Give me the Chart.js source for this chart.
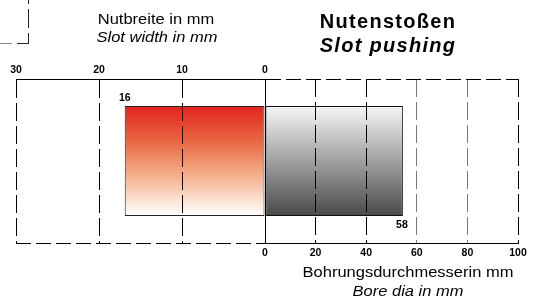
<!DOCTYPE html>
<html>
<head>
<meta charset="utf-8">
<script src="https://cdn.jsdelivr.net/npm/chart.js@4"></script>
<style>
html,body{margin:0;padding:0;background:#fff;}
#wrap{position:relative;width:542px;height:299px;overflow:hidden;background:#fff;font-family:"Liberation Sans",Arial,sans-serif;color:#000;}
canvas{position:absolute;top:0;}
.t{position:absolute;white-space:nowrap;line-height:1;transform:translateX(-50%) scaleX(1.1);}
.h{position:absolute;white-space:nowrap;line-height:1;transform:translateX(-50%);font-weight:bold;font-size:20px;letter-spacing:1.3px;}
.i{font-style:italic;}
</style>
</head>
<body>
<div id="wrap">
  <svg style="position:absolute;left:0;top:0" width="40" height="50">
    <path d="M28.5 0 V44" stroke="#222" stroke-width="1" stroke-dasharray="4 5 19 5 11 0" fill="none"/>
    <path d="M0 43.5 H12" stroke="#888" stroke-width="1"/>
    <path d="M17 43.5 H28.5" stroke="#222" stroke-width="1"/>
  </svg>
  <canvas id="leftChart" width="275" height="299" style="left:0px"></canvas>
  <canvas id="rightChart" width="287" height="299" style="left:255px"></canvas>
  <div class="t" style="left:155.5px;top:11.3px;font-size:15px">Nutbreite in mm</div>
  <div class="t i" style="left:157px;top:29px;font-size:15px">Slot width in mm</div>
  <div class="h" style="left:388px;top:11px">Nutenstoßen</div>
  <div class="h i" style="left:388px;top:35px">Slot pushing</div>
  <div class="t" style="left:407.7px;top:264px;font-size:15px">Bohrungsdurchmesserin mm</div>
  <div class="t i" style="left:407.7px;top:283px;font-size:15px">Bore dia in mm</div>
</div>
<script>
// ---- data ----
const categories = ['Nutenstoßen'];
const slotWidthValues = [16.9];      // slot width in mm (left, reversed scale)
const slotWidthLabels = ['16'];
const boreDiaValues = [54.5];        // bore diameter in mm (right scale)
const boreDiaLabels = ['58'];
const slotTicks = [0, 10, 20, 30];
const boreTicks = [0, 20, 40, 60, 80, 100];

const BAR_PCT = 0.67;
const CAT_PCT = 1.0;
const FONT = '"Liberation Sans", Arial, sans-serif';
Chart.defaults.font.family = FONT;
Chart.defaults.color = '#000';

function barGradient(stops) {
  return (c) => {
    const chart = c.chart;
    const y = chart.scales && chart.scales.y;
    if (!y || !chart.chartArea || c.dataIndex === undefined) return stops[stops.length - 1][1];
    const center = y.getPixelForValue(c.dataIndex);
    const band = (y.bottom - y.top) / Math.max(1, y.ticks.length);
    const half = band * BAR_PCT * CAT_PCT / 2;
    const g = chart.ctx.createLinearGradient(0, center - half, 0, center + half);
    stops.forEach(s => g.addColorStop(s[0], s[1]));
    return g;
  };
}

const barLabelPlugin = {
  id: 'barLabels',
  afterDatasetsDraw(chart, args, opts) {
    const ctx = chart.ctx;
    const meta = chart.getDatasetMeta(0);
    ctx.save();
    ctx.font = 'bold 10.5px ' + FONT;
    ctx.fillStyle = '#000';
    ctx.textAlign = 'center';
    ctx.textBaseline = 'alphabetic';
    meta.data.forEach((el, i) => {
      const top = el.y - el.height / 2, bottom = el.y + el.height / 2;
      if (opts.place === 'above') ctx.fillText(opts.labels[i], el.x, top - 5);
      else ctx.fillText(opts.labels[i], el.x - 1, bottom + 12);
    });
    ctx.restore();
  }
};

function makeChart(id, values, labels, place, xOpts, colors, pad) {
  return new Chart(document.getElementById(id), {
    type: 'bar',
    data: {
      labels: categories,
      datasets: [{
        data: values,
        backgroundColor: barGradient(colors.stops),
        borderColor: colors.border,
        borderWidth: 1,
        borderSkipped: false,
        barPercentage: BAR_PCT,
        categoryPercentage: CAT_PCT
      }]
    },
    plugins: [barLabelPlugin],
    options: {
      indexAxis: 'y',
      responsive: false,
      animation: false,
      events: [],
      layout: { padding: pad },
      plugins: {
        legend: { display: false },
        tooltip: { enabled: false },
        barLabels: { place: place, labels: labels }
      },
      scales: {
        x: xOpts,
        y: {
          type: 'category',
          position: 'left',
          ticks: { display: false },
          grid: { offset: true, drawTicks: false, color: '#000', lineWidth: 1, z: 1 },
          border: colors.yBorder,
          afterFit: s => { s.width = 0; }
        }
      }
    }
  });
}

const tickFont = { family: FONT, size: 10.5, weight: 'bold' };

makeChart('leftChart', slotWidthValues, slotWidthLabels, 'above', {
  type: 'linear',
  position: 'top',
  reverse: true,
  min: slotTicks[0],
  max: slotTicks[slotTicks.length - 1],
  afterBuildTicks: s => { s.ticks = slotTicks.map(v => ({ value: v })); },
  ticks: { font: tickFont, color: '#000', padding: 3 },
  grid: { drawTicks: false, color: '#000', lineWidth: 1, z: 1 },
  border: { display: true, color: '#000', width: 1, dash: [18, 5], z: 2 },
  afterFit: s => { s.height = 20; }
}, {
  stops: [[0, '#e2231f'], [0.3, '#e8633f'], [0.6, '#f3a983'], [0.85, '#fbe0d0'], [1, '#ffffff']],
  border: '#222',
  yBorder: { display: false, dash: [15, 5] }
}, { left: 16, right: 10, top: 59, bottom: 56 });

makeChart('rightChart', boreDiaValues, boreDiaLabels, 'below', {
  type: 'linear',
  position: 'bottom',
  min: boreTicks[0],
  max: boreTicks[boreTicks.length - 1],
  afterBuildTicks: s => { s.ticks = boreTicks.map(v => ({ value: v })); },
  ticks: { font: tickFont, color: '#000', padding: 4 },
  grid: {
    drawTicks: false, lineWidth: 1, z: 1,
    color: c => (c.tick && (c.tick.value === 60 || c.tick.value === 80)) ? '#777' : '#000'
  },
  border: { display: true, color: '#000', width: 1, dash: [18, 5], z: 2 },
  afterFit: s => { s.height = 20; }
}, {
  stops: [[0, '#f6f6f6'], [1, '#4a4a4a']],
  border: '#111',
  yBorder: { display: true, color: '#000', width: 1, dash: [15, 5], z: 2 }
}, { left: 10, right: 24, top: 79, bottom: 36 });
</script>
</body>
</html>
